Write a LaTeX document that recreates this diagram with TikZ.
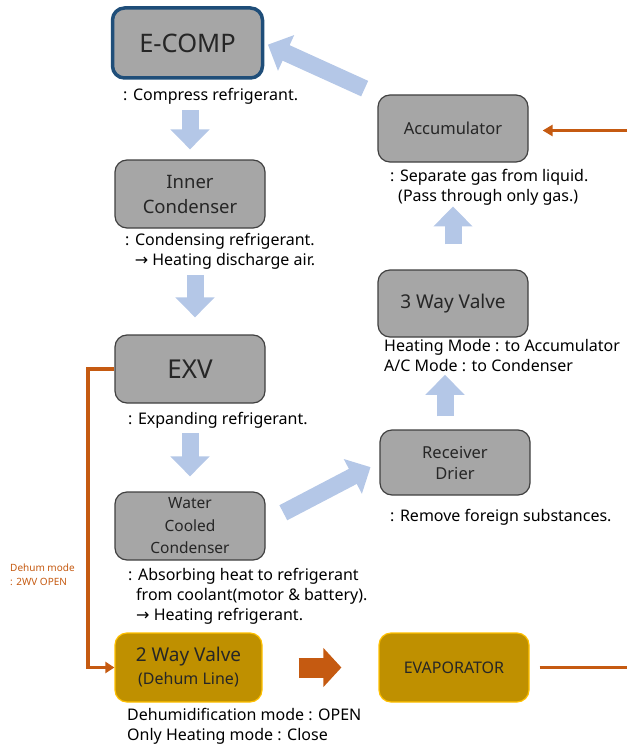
\documentclass[tikz,border=0pt]{standalone}
\usepackage{fontspec}
\setmainfont{Noto Sans}
\newfontfamily\symfont{DejaVu Sans}
\usetikzlibrary{arrows.meta}
\definecolor{boxgray}{HTML}{A6A6A6}
\definecolor{boxline}{HTML}{404040}
\definecolor{compline}{HTML}{1F4E79}
\definecolor{flowblue}{HTML}{B4C7E7}
\definecolor{dehumorange}{HTML}{C55A11}
\definecolor{valvegold}{HTML}{BF9000}
\definecolor{valveline}{HTML}{FFC000}
\newcommand{\rarr}{{\symfont\char"2192}}
\begin{document}
\begin{tikzpicture}[x=1pt,y=-1pt,
  part/.style={draw=boxline, line width=1.2pt, fill=boxgray, rounded corners=12pt,
    minimum width=150pt, minimum height=68pt, align=center, font=\fontsize{18.5}{25}\selectfont, text=black!85},
  goldpart/.style={part, draw=valveline, fill=valvegold},
  note/.style={anchor=west, align=left, font=\fontsize{16}{20}\selectfont, text=black, inner sep=0pt},
  flow/.style={draw=flowblue, line width=17pt, -{Triangle[width=38pt,length=20pt]}},
  dehum/.style={draw=dehumorange, line width=3.5pt},
  dehumblock/.style={draw=dehumorange, line width=20pt, -{Triangle[width=38pt,length=18pt]}}]
\useasboundingbox (0,0) rectangle (627,749);
% left column
\node[part, draw=compline, line width=3.5pt, minimum height=70pt, font=\fontsize{25.5}{28}\selectfont] (ecomp) at (187.5,43) {E-COMP};
\node[note] (dcomp) at (123,96) {: Compress refrigerant.};
\node[part] (inner) at (190,194) {Inner\\Condenser};
\node[note, anchor=north west] (dinner) at (125,233) {: Condensing refrigerant.\\\hspace*{0.6em}\rarr{} Heating discharge air.};
\node[part, font=\fontsize{26}{28}\selectfont] (exv) at (190,369) {EXV};
\node[note] (dexv) at (128,420) {: Expanding refrigerant.};
\node[part, font=\fontsize{15.5}{22.5}\selectfont] (wcc) at (190,526) {Water\\Cooled\\Condenser};
\node[note, anchor=north west] (dwcc) at (128,568) {: Absorbing heat to refrigerant\\\hspace*{0.5em}from coolant(motor \& battery).\\\hspace*{0.5em}\rarr{} Heating refrigerant.};
\node[goldpart, minimum width=147pt, minimum height=69pt, font=\fontsize{19}{23}\selectfont] (twv) at (188.5,667.5) {2 Way Valve\\{\fontsize{16}{20}\selectfont(Dehum Line)}};
\node[note, anchor=north west] (dtwv) at (127,708) {Dehumidification mode : OPEN\\Only Heating mode : Close};
\node[note, text=dehumorange, font=\fontsize{10}{14}\selectfont] (ldehum) at (10,575) {Dehum mode\\: 2WV OPEN};
% right column
\node[part, minimum height=67pt, font=\fontsize{16.5}{20}\selectfont] (acc) at (453,128.5) {Accumulator};
\node[note, anchor=north west] (dacc) at (390,169) {: Separate gas from liquid.\\\hspace*{0.5em}(Pass through only gas.)};
\node[part, minimum height=67pt, font=\fontsize{19}{22}\selectfont] (threewv) at (453,303.5) {3 Way Valve};
\node[note, anchor=north west] (dthree) at (384,339) {Heating Mode : to Accumulator\\A/C Mode : to Condenser};
\node[part, minimum height=65pt, font=\fontsize{16.5}{21}\selectfont] (rd) at (455,462.5) {Receiver\\Drier};
\node[note] (drd) at (390,517) {: Remove foreign substances.};
\node[goldpart, minimum height=69pt, font=\fontsize{16}{20}\selectfont] (evap) at (454,667.5) {EVAPORATOR};
\coordinate (rimedge) at (627,0);
\coordinate (dh) at (88,0);
% refrigerant flow
\draw[flow, shorten <=6pt, shorten >=10pt] (inner.north |- dcomp.south) -- (inner.north);
\draw[flow, shorten <=6pt, shorten >=17pt] ([xshift=5pt]exv.north |- dinner.south) -- ([xshift=5pt]exv.north);
\draw[flow, shorten <=5pt, shorten >=15pt] (wcc.north |- dexv.south) -- (wcc.north);
\draw[flow, shorten <=20pt, shorten >=10pt] ([yshift=4pt]wcc.east) -- (rd.west);
\draw[flow, shorten <=13pt, shorten >=3pt] ([xshift=-10pt]rd.north) -- ([xshift=-10pt]rd.north |- dthree.south);
\draw[flow, shorten <=25pt, shorten >=1pt] (threewv.north) -- (threewv.north |- dacc.south);
\draw[flow, shorten <=14pt, shorten >=4pt] (acc.north west) -- (ecomp.east);
% dehum line
\draw[dehum, -{Triangle[width=11pt,length=9pt]}] (exv.west) -- (exv.west -| dh) -- (twv.west -| dh) -- (twv.west);
\draw[dehumblock, shorten <=36pt, shorten >=37pt] (twv.east) -- (evap.west);
\draw[dehum, shorten <=10pt] (evap.east) -- (evap.east -| rimedge);
\draw[dehum, -{Triangle[width=11pt,length=10pt]}, shorten >=14pt] ([yshift=-2pt]acc.east -| rimedge) -- ([yshift=-2pt]acc.east);
\end{tikzpicture}
\end{document}
